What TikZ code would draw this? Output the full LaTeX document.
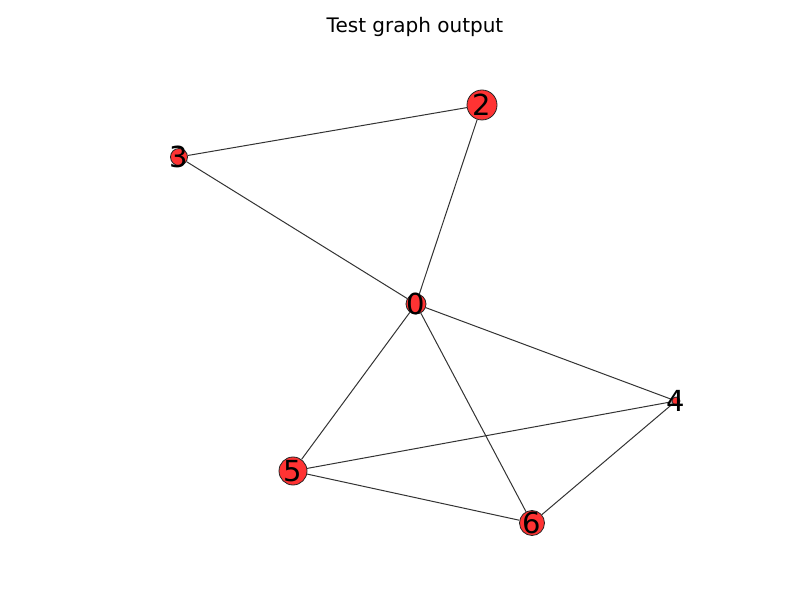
\documentclass[tikz,border=0pt]{standalone}
\usepackage{fontspec}
\setmainfont{DejaVu Sans}
\usetikzlibrary{calc}
\pgfdeclarelayer{background}
\pgfsetlayers{background,main}
\definecolor{nodered}{RGB}{255,51,51}
\definecolor{edgegray}{RGB}{51,51,51}
\tikzset{
  vertex/.style={circle,draw=black!85,line width=0.8pt,fill=nodered,inner sep=0pt},
  vlabel/.style={font=\fontsize{29}{29}\selectfont,inner sep=0pt,text=black},
  edge/.style={draw=edgegray,line width=1pt}
}

\begin{document}
\begin{tikzpicture}[x=1pt,y=-1pt]
      \useasboundingbox (0,0) rectangle (812,612);
      \node[font=\fontsize{20}{20}\selectfont] (title) at (415,27) {Test graph output};
      % vertices
      \node[vertex,minimum size=20pt] (v0) at (416,304) {};
      \node[vertex,minimum size=30pt] (v2) at (482,105) {};
      \node[vertex,minimum size=17pt] (v3) at (179,157) {};
      \node[vertex,minimum size=8pt] (v4) at (676,401) {};
      \node[vertex,minimum size=28pt] (v5) at (293,471) {};
      \node[vertex,minimum size=25pt] (v6) at (532,523) {};
      % labels
      \foreach \n in {0,2,3,4,5,6}
        \node[vlabel] (l\n) at (v\n.center) {\n};
      % edges
      \begin{pgfonlayer}{background}
        \draw[edge] (v3) -- (v2);
        \draw[edge] (v3) -- (v0);
        \draw[edge] (v2) -- (v0);
        \draw[edge] (v0) -- (v4);
        \draw[edge] (v0) -- (v5);
        \draw[edge] (v0) -- (v6);
        \draw[edge] (v5) -- (v4);
        \draw[edge] (v5) -- (v6);
        \draw[edge] (v6) -- (v4);
      \end{pgfonlayer}
    \end{tikzpicture}
\end{document}
